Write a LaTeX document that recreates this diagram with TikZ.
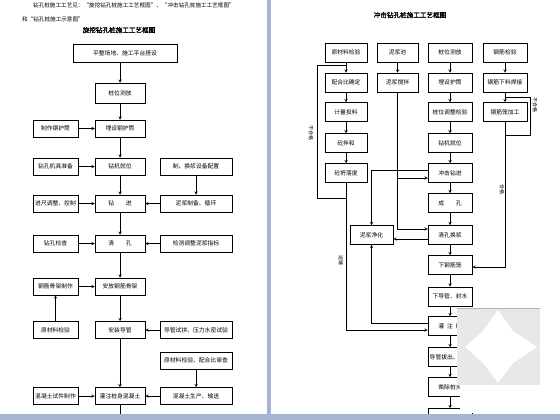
\documentclass[tikz,border=0pt]{standalone}
\usepackage{fontspec}
\setmainfont{Noto Sans CJK SC}
\newfontfamily\titlefont[FakeBold=1.5]{Noto Sans CJK SC}
\definecolor{pageedge}{RGB}{165,180,208}
\definecolor{markgray}{RGB}{232,232,232}
\tikzset{
  >=stealth,
  flowbox/.style={draw, line width=0.5pt, fill=white, inner sep=0pt,
    minimum height=17pt, font=\fontsize{5.8}{7}\selectfont},
  wa/.style={minimum width=45},
  wb/.style={minimum width=50},
  wc/.style={minimum width=72},
  rbox/.style={flowbox, minimum height=19, minimum width=43},
  sidenote/.style={rotate=-90, inner sep=0pt, font=\fontsize{5}{6}\selectfont},
  flow/.style={line width=0.5pt}
}

\begin{document}
\begin{tikzpicture}[x=1pt, y=-1pt]
    \useasboundingbox (0,0) rectangle (560,420);

    % header and titles
    \node[anchor=west, inner sep=0pt, font=\fontsize{5.6}{7}\selectfont] (hd1) at (33,5) {钻孔桩施工工艺见：“旋挖钻孔桩施工工艺框图”、“冲击钻孔桩施工工艺框图”};
    \node[anchor=west, inner sep=0pt, font=\fontsize{5.6}{7}\selectfont] (hd2) at (22,19) {和“钻孔桩施工示意图”};
    \node[inner sep=0pt, font=\titlefont\fontsize{6.6}{8}\selectfont] (ltitle) at (119,30) {旋挖钻孔桩施工工艺框图};
    \node[inner sep=0pt, font=\titlefont\fontsize{6.6}{8}\selectfont] (rtitle) at (410,15) {冲击钻孔桩施工工艺框图};

    % left chart
    \node[flowbox, minimum width=104, minimum height=18] (pzcd) at (125,53) {平整场地、施工平台搭设};
    \node[flowbox, wb, minimum height=20] (zwcf) at (120,93) {桩位测放};
    \node[flowbox, wa] (zzht) at (55.5,128.5) {制作钢护筒};
    \node[flowbox, wb] (msht) at (120,128.5) {埋设钢护筒};
    \node[flowbox, wa] (zkjj) at (55.5,166.5) {钻孔机具准备};
    \node[flowbox, wb] (zjjw) at (120,166.5) {钻机就位};
    \node[flowbox, wc] (hjsb) at (196,166.5) {制、换浆设备配置};
    \node[flowbox, wa] (jctz) at (55.5,203.5) {进尺调整、控制};
    \node[flowbox, wb] (zj) at (120,203.5) {钻\qquad 进};
    \node[flowbox, wc] (njzb) at (196,203.5) {泥浆制备、循环};
    \node[flowbox, wa] (zkjc) at (55.5,243.5) {钻孔检查};
    \node[flowbox, wb] (qk) at (120,243.5) {清\qquad 孔};
    \node[flowbox, wc] (jcnj) at (196,243.5) {检测调整泥浆指标};
    \node[flowbox, wa] (gjzz) at (55.5,286.5) {钢筋骨架制作};
    \node[flowbox, wb] (afgj) at (120,286.5) {安放钢筋骨架};
    \node[flowbox, wa] (yclj) at (55.5,330) {原材料检验};
    \node[flowbox, wb] (azdg) at (120,330) {安装导管};
    \node[flowbox, wc] (dgsp) at (196,330) {导管试拼、压力水密试验};
    \node[flowbox, wc] (phsc) at (196,360.5) {原材料检验、配合比审查};
    \node[flowbox, wa] (sjzz) at (55.5,396) {混凝土试件制作};
    \node[flowbox, wb] (gzhnt) at (120,396) {灌注桩身混凝土};
    \node[flowbox, wc] (hnsc) at (196,396) {混凝土生产、输送};
    \coordinate (lend) at (120,416);

    \draw[flow,->] (zwcf.north |- pzcd.south) -- (zwcf.north);
    \draw[flow,->] (zwcf) -- (msht);
    \draw[flow,->] (zzht) -- (msht);
    \draw[flow,->] (msht) -- (zjjw);
    \draw[flow,->] (zkjj) -- (zjjw);
    \draw[flow,->] (hjsb) -- (njzb);
    \draw[flow,->] (zjjw) -- (zj);
    \draw[flow,->] (jctz) -- (zj);
    \draw[flow,->] (njzb) -- (zj);
    \draw[flow,->] (zj) -- (qk);
    \draw[flow,->] (zkjc) -- (qk);
    \draw[flow,->] (jcnj) -- (qk);
    \draw[flow,->] (qk) -- (afgj);
    \draw[flow,->] (gjzz) -- (afgj);
    \draw[flow,->] (yclj) -- (gjzz);
    \draw[flow,->] (afgj) -- (azdg);
    \draw[flow,->] (dgsp) -- (azdg);
    \draw[flow,->] (azdg) -- (gzhnt);
    \draw[flow,->] (phsc) -- (hnsc);
    \draw[flow,->] (sjzz) -- (gzhnt);
    \draw[flow,->] (hnsc) -- (gzhnt);
    \draw[flow] (gzhnt) -- (lend);

    % right chart
    \node[rbox, minimum width=42] (rycl) at (346,52.5) {原材料检验};
    \node[rbox, minimum width=41] (njc) at (397.5,52.5) {泥浆池};
    \node[rbox, minimum width=44] (rzwcf) at (450,52.5) {桩位测放};
    \node[rbox, minimum width=44] (gjjy) at (505,52.5) {钢筋检验};
    \node[rbox, minimum width=42] (phb) at (346,82.5) {配合比确定};
    \node[rbox, minimum width=41] (njjb) at (397.5,82.5) {泥浆搅拌};
    \node[rbox, minimum width=44] (mshd) at (450,82.5) {埋设护筒};
    \node[rbox, minimum width=44] (gjxl) at (505,82.5) {钢筋下料焊接};
    \node[rbox, minimum width=42] (jltl) at (346,112) {计量投料};
    \node[rbox, minimum width=44] (zwtz) at (450,112) {桩位调整检验};
    \node[rbox, minimum width=44] (gjlj) at (505,112) {钢筋笼加工};
    \node[rbox, minimum width=42] (tbh) at (346,143) {砼拌和};
    \node[rbox, minimum width=44] (rzjjw) at (450,143) {钻机就位};
    \node[rbox, minimum width=42] (tld) at (346,173) {砼坍落度};
    \node[rbox, minimum width=44] (cjzj) at (450,173) {冲击钻进};
    \node[rbox, minimum width=44] (ck) at (450,203) {成\qquad 孔};
    \node[rbox, minimum width=43] (njjh) at (371.5,235) {泥浆净化};
    \node[rbox, minimum width=44] (qkhj) at (450,235) {清孔换浆};
    \node[rbox, minimum width=44] (xgjl) at (450,265) {下钢筋笼};
    \node[rbox, minimum width=44] (xdg) at (450,296.5) {下导管、封水};
    \node[rbox, minimum width=44] (gzt) at (450,326) {灌\; 注\; 砼};
    \node[rbox, minimum width=44] (dgbc) at (450,357) {导管拔出、拆卸};
    \node[rbox, minimum width=44] (zczt) at (450,387) {凿除桩头};
    \node[rbox, minimum width=44] (zjjc) at (450,418) {桩基检测};

    \coordinate (cjin) at ([yshift=-5pt]cjzj.west);
    \coordinate (cjout) at ([yshift=3pt]cjzj.west);
    \coordinate (bhgb) at (317,198);
    \coordinate (bhgt) at (317,65);
    \coordinate (gjb) at (505,135);
    \coordinate (gjr1) at (530,135);
    \coordinate (gjr2) at (530,97);

    \draw[flow,->] (rycl) -- (phb);
    \draw[flow,->] (phb) -- (jltl);
    \draw[flow,->] (jltl) -- (tbh);
    \draw[flow,->] (tbh) -- (tld);
    \draw[flow,->] (tld.south) |- ([yshift=-4pt]gzt.west);
    \draw[flow] (tld.south |- bhgb) -- (bhgb) -- (bhgt) -- (bhgt -| phb.north);
    \draw[flow,->] (njc) -- (njjb);
    \draw[flow,->] (njjb.south) |- ([yshift=6pt]qkhj.west);
    \draw[flow,->] (njjb.south |- cjin) -- (cjin);
    \draw[flow,->] (cjout) -| (njjh.north);
    \draw[flow,->] ([yshift=-4pt]qkhj.west) -- ([yshift=-4pt]njjh.east);
    \draw[flow,->] ([yshift=3pt]gzt.west) -| (njjh.south);
    \draw[flow,->] (rzwcf) -- (mshd);
    \draw[flow,->] (mshd) -- (zwtz);
    \draw[flow,->] (zwtz) -- (rzjjw);
    \draw[flow,->] (rzjjw) -- (cjzj);
    \draw[flow,->] (cjzj) -- (ck);
    \draw[flow,->] (ck) -- (qkhj);
    \draw[flow,->] (qkhj) -- (xgjl);
    \draw[flow,->] (xgjl) -- (xdg);
    \draw[flow,->] (xdg) -- (gzt);
    \draw[flow,->] (gzt) -- (dgbc);
    \draw[flow,->] (dgbc) -- (zczt);
    \draw[flow,->] (zczt) -- (zjjc);
    \draw[flow,->] (gjjy) -- (gjxl);
    \draw[flow,->] (gjxl) -- (gjlj);
    \draw[flow] (gjlj.south) -- (gjb) -- (gjr1) -- (gjr2) -- (gjr2 -| gjlj.north);
    \draw[flow,->] (gjb) |- ([yshift=-2pt]xgjl.east);

    \node[sidenote] (bhg1) at (311,133) {不合格};
    \node[sidenote] (ysh) at (341,260) {运输};
    \node[sidenote] (bhg2) at (535,105) {不合格};
    \node[sidenote] (hg) at (502,189) {合格};

    % watermark and page edges
    \fill[white] (460,385) rectangle (548,413);
    \fill[markgray] (457,308) rectangle (540,385);
    \draw[gray!60, line width=0.6pt] (457,308) -- (540,308);
    \fill[white] (498,310) -- (513,331) -- (537,347) -- (513,363) -- (498,383)
      -- (483,363) -- (465,347) -- (483,331) -- cycle;
    \fill[pageedge] (267,0) rectangle (271,420);
    \fill[pageedge] (0,414) rectangle (560,420);
\end{tikzpicture}
\end{document}
